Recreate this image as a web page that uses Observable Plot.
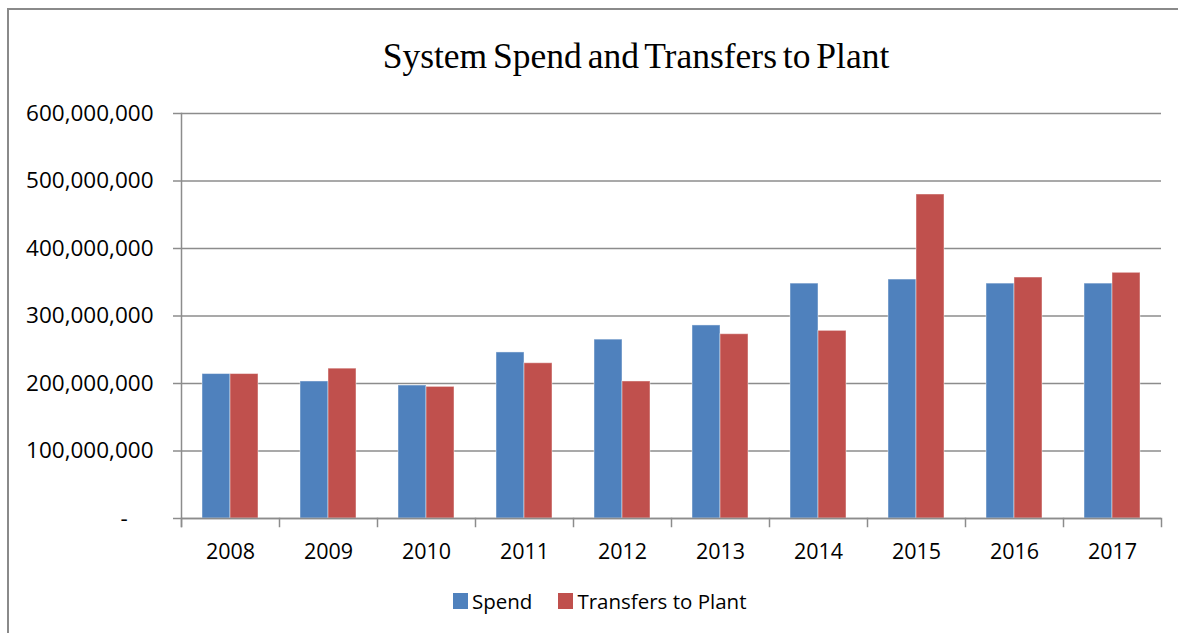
<!DOCTYPE html>
<html>
<head>
<meta charset="utf-8">
<script src="https://cdn.jsdelivr.net/npm/d3@7"></script>
<script src="https://cdn.jsdelivr.net/npm/@observablehq/plot@0.6"></script>
<style>
  html, body { margin: 0; padding: 0; background: #fff; }
  #wrap { position: relative; width: 1178px; height: 633px; overflow: hidden; background: #fff; }
  #border { position: absolute; left: 7px; top: 8px; width: 1300px; height: 800px;
            border-left: 2px solid #8a8a8a; border-top: 2px solid #8a8a8a; }
  #title { position: absolute; left: 0; width: 1272px; top: 35px; text-align: center;
           font-family: "Liberation Serif", "DejaVu Serif", serif; font-size: 35.5px; color: #000;
           word-spacing: -3px; white-space: nowrap; line-height: 42px; }
  #chart { position: absolute; left: 0; top: 0; }
  #legend { position: absolute; top: 588px; left: 453px; font-family: "Open Sans", sans-serif;
            font-size: 20.5px; color: #000; display: flex; align-items: center; white-space: nowrap; line-height: 26px; }
  .sw { display: inline-block; width: 15px; height: 16px; margin-right: 4px; }
  .item { display: flex; align-items: center; margin-right: 26px; }
</style>
</head>
<body>
<div id="wrap">
  <div id="border"></div>
  <div id="title">System Spend and Transfers to Plant</div>
  <div id="chart"></div>
  <div id="legend"></div>
</div>
<script>
const years = ["2008","2009","2010","2011","2012","2013","2014","2015","2016","2017"];
const seriesNames = ["Spend", "Transfers to Plant"];
const spend =     [214e6, 203e6, 197e6, 246e6, 265e6, 286e6, 348e6, 354e6, 348e6, 348e6];
const transfers = [214e6, 222e6, 195e6, 230e6, 203e6, 273e6, 278e6, 480e6, 357e6, 364e6];
const yTicks = [0, 100e6, 200e6, 300e6, 400e6, 500e6, 600e6];
const colors = ["#4F81BD", "#C0504D"];

const data = [];
years.forEach((yr, i) => {
  data.push({year: yr, series: seriesNames[0], value: spend[i]});
  data.push({year: yr, series: seriesNames[1], value: transfers[i]});
});

const gridColor = "#8c8c8c";
const fmt = d3.format(",");

const plot = Plot.plot({
  width: 1178,
  height: 633,
  marginTop: 113,
  marginBottom: 115,
  marginLeft: 178,
  marginRight: 15,
  style: {fontFamily: "'Open Sans', sans-serif", fontSize: "21px", color: "#000", background: "transparent"},
  fx: {domain: years, padding: 0, label: null},
  x: {domain: seriesNames, paddingInner: 0, paddingOuter: 0.73, axis: null},
  y: {domain: [0, 600e6], label: null},
  color: {domain: seriesNames, range: colors},
  marks: [
    Plot.gridY(yTicks, {stroke: gridColor, strokeOpacity: 1, strokeWidth: 1.5}),
    Plot.barY(data, {fx: "year", x: "series", y: "value", fill: "series", stroke: "#fff", strokeOpacity: 0.45, strokeWidth: 1}),
    Plot.ruleY([0], {stroke: gridColor, strokeWidth: 1.5}),
    Plot.frame({anchor: "left", fx: ["2008"], stroke: gridColor, strokeWidth: 1.5, insetBottom: -8}),
    Plot.frame({anchor: "left", stroke: gridColor, strokeWidth: 1.5, insetTop: 405, insetBottom: -8}),
    Plot.frame({anchor: "right", fx: ["2017"], stroke: gridColor, strokeWidth: 1.5, insetTop: 405, insetBottom: -8}),
    Plot.axisY(yTicks, {anchor: "left", tickSize: 8, tickPadding: 20, stroke: gridColor, strokeWidth: 1.5,
      tickFormat: d => d === 0 ? "-\u2007\u2007" : fmt(d), fill: "#000", fontSize: 22.5, label: null}),
    Plot.axisFx({anchor: "bottom", tickSize: 0, tickPadding: 25, fill: "#000", fontSize: 21.5, label: null})
  ]
});
document.getElementById("chart").appendChild(plot);

const legend = document.getElementById("legend");
seriesNames.forEach((s, i) => {
  const item = document.createElement("span");
  item.className = "item";
  const sw = document.createElement("span");
  sw.className = "sw";
  sw.style.background = colors[i];
  item.appendChild(sw);
  item.appendChild(document.createTextNode(s));
  legend.appendChild(item);
});
</script>
</body>
</html>
